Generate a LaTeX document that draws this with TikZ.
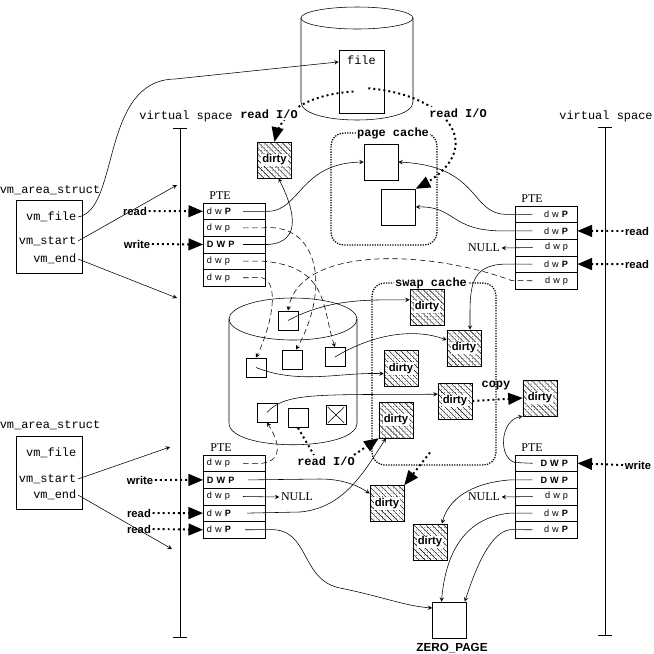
\documentclass[tikz,border=0pt]{standalone}
\usepackage{fontspec}
\setmainfont{Liberation Serif}
\setsansfont{Liberation Sans}
\setmonofont{Liberation Mono}
\usetikzlibrary{arrows, positioning, patterns.meta}

\newcommand\dirtyword{{\setlength\fboxsep{0.6pt}\colorbox{white}{dirty}}}

\tikzstyle{tttext} = [inner sep=1pt, font=\ttfamily\fontsize{8.5}{10}\selectfont]
\tikzstyle{vmtext} = [anchor=east, inner sep=1pt, font=\ttfamily\fontsize{8.5}{10}\selectfont]
\tikzstyle{sertext} = [inner sep=1pt, font=\fontsize{8.5}{10}\selectfont]
\tikzstyle{bftt} = [inner sep=1pt, font=\ttfamily\bfseries\fontsize{8.5}{10}\selectfont]
\tikzstyle{bfsans} = [inner sep=1pt, font=\sffamily\bfseries\fontsize{8}{10}\selectfont]
\tikzstyle{vmbox} = [rectangle, draw=black, minimum width=1.65cm, minimum height=1.83cm]
\tikzstyle{pterowL} = [rectangle, draw=black, minimum width=1.55cm, minimum height=0.415cm, inner sep=0pt, outer sep=0pt, text width=1.35cm, align=left, font=\sffamily\fontsize{6.5}{7}\selectfont]
\tikzstyle{pterowR} = [rectangle, draw=black, minimum width=1.55cm, minimum height=0.415cm, inner sep=0pt, outer sep=0pt, text width=1.075cm, align=right, font=\sffamily\fontsize{6.5}{7}\selectfont]
\tikzstyle{dirtybox} = [rectangle, draw=black, minimum width=0.85cm, minimum height=0.9cm, inner sep=0pt, preaction={fill=white}, preaction={pattern={Dots[distance=2pt, radius=0.25pt]}}, pattern={Lines[angle=-45, distance=3pt, line width=0.3pt]}, font=\sffamily\bfseries\fontsize{8}{9}\selectfont]
\tikzstyle{pagebox} = [rectangle, draw=black, fill=white, minimum width=0.85cm, minimum height=0.9cm]
\tikzstyle{diskbox} = [rectangle, draw=black, fill=white, minimum width=0.5cm, minimum height=0.48cm]
\tikzstyle{cacheframe} = [rectangle, draw=black, rounded corners=9pt, line width=0.9pt, dash pattern=on 0.9pt off 0.9pt]
\tikzstyle{arrow} = [->, >=stealth]
\tikzstyle{darrow} = [->, >=stealth, dash pattern=on 4pt off 2.5pt]
\tikzstyle{iodots} = [line width=1.4pt, dash pattern=on 1.4pt off 2.2pt]
\tikzstyle{rwarrow} = [line width=1.4pt, dash pattern=on 1.4pt off 2.2pt, -triangle 45]

\begin{document}
\begin{tikzpicture}[x=0.025cm, y=-0.025cm]
    \useasboundingbox (0,0) rectangle (654,654);

    % disks
    \draw (357,18) ellipse [x radius=56, y radius=11];
    \draw (301,18) -- (301,102) .. controls (301,126) and (413,126) .. (413,102) -- (413,18);
    \draw (293,319) ellipse [x radius=64, y radius=21];
    \draw (229,319) -- (229,423) .. controls (229,452) and (357,452) .. (357,423) -- (357,319);

    \node (file) [rectangle, draw, fill=white, minimum width=1.125cm, minimum height=1.575cm] at (361.5,81.5) {};
    \node (filetxt) [tttext, anchor=north] at ([yshift=-3pt]file.north) {file};

    % virtual spaces
    \node (vsL) [tttext] at (186,116) {virtual space};
    \draw (173,128) -- (187,128) (180,128) -- (180,637) (173,637) -- (187,637);
    \node (vsR) [tttext] at (606,116) {virtual space};
    \draw (598,127) -- (612,127) (605,127) -- (605,635) (598,635) -- (612,635);
    \coordinate (vsL1) at (177,185);
    \coordinate (vsL2) at (177,298);
    \coordinate (vsL3) at (170,447);
    \coordinate (vsL4) at (172,549);

    % vm_area_struct
    \node (vmA) [vmbox] at (49,236.5) {};
    \node (vmAname) [tttext] at (50,190) {vm\_area\_struct};
    \node (vmAfile) [vmtext] at (78,217) {vm\_file};
    \node (vmAstart) [vmtext] at (78,241) {vm\_start};
    \node (vmAend) [vmtext] at (78,259) {vm\_end};
    \node (vmB) [vmbox] at (49,473) {};
    \node (vmBname) [tttext] at (50,425) {vm\_area\_struct};
    \node (vmBfile) [vmtext] at (78,453) {vm\_file};
    \node (vmBstart) [vmtext] at (78,479) {vm\_start};
    \node (vmBend) [vmtext] at (78,495) {vm\_end};

    % PTEs
    \node (pteA) [sertext] at (220,196) {PTE};
    \node (ptA1) [pterowL] at (234,211.3) {d w \textbf{P}};
    \node (ptA2) [pterowL, below=0pt of ptA1] {d w p};
    \node (ptA3) [pterowL, below=0pt of ptA2] {\textbf{D W P}};
    \node (ptA4) [pterowL, below=0pt of ptA3] {d w p};
    \node (ptA5) [pterowL, below=0pt of ptA4] {d w p};

    \node (pteB) [sertext] at (532,199) {PTE};
    \node (ptB1) [pterowR] at (546.5,214.3) {d w \textbf{P}};
    \node (ptB2) [pterowR, below=0pt of ptB1] {d w \textbf{P}};
    \node (ptB3) [pterowR, below=0pt of ptB2] {d w p};
    \node (ptB4) [pterowR, below=0pt of ptB3] {d w \textbf{P}};
    \node (ptB5) [pterowR, below=0pt of ptB4] {d w p};

    \node (pteC) [sertext] at (221,448) {PTE};
    \node (ptC1) [pterowL] at (234,463.3) {d w p};
    \node (ptC2) [pterowL, below=0pt of ptC1] {\textbf{D W P}};
    \node (ptC3) [pterowL, below=0pt of ptC2] {d w p};
    \node (ptC4) [pterowL, below=0pt of ptC3] {d w \textbf{P}};
    \node (ptC5) [pterowL, below=0pt of ptC4] {d w \textbf{P}};

    \node (pteD) [sertext] at (532,448) {PTE};
    \node (ptD1) [pterowR] at (546.5,463.3) {\textbf{D W P}};
    \node (ptD2) [pterowR, below=0pt of ptD1] {\textbf{D W P}};
    \node (ptD3) [pterowR, below=0pt of ptD2] {d w p};
    \node (ptD4) [pterowR, below=0pt of ptD3] {d w \textbf{P}};
    \node (ptD5) [pterowR, below=0pt of ptD4] {d w \textbf{P}};

    \node (nullB) [sertext] at (484,248) {NULL};
    \node (nullC) [sertext] at (297,497) {NULL};
    \node (nullD) [sertext] at (484,497) {NULL};

    % caches
    \node (pagec) [cacheframe, minimum width=2.65cm, minimum height=2.8cm] at (384,189) {};
    \node (pagectxt) [bftt, fill=white] at (393,133) {page cache};
    \node (pc1) [pagebox] at (381,162) {};
    \node (pc2) [pagebox] at (398.5,207) {};

    \node (swapc) [cacheframe, minimum width=3.1cm, minimum height=4.55cm] at (434,374) {};
    \node (swapctxt) [bftt, fill=white] at (431,283) {swap cache};

    % swap disk slots
    \node (boxA) [diskbox] at (288,320.5) {};
    \node (boxB) [diskbox] at (292,359.5) {};
    \node (boxC) [diskbox] at (335,357) {};
    \node (boxD) [diskbox] at (256,367.5) {};
    \node (boxE) [diskbox] at (267,412.5) {};
    \node (boxF) [diskbox] at (298,418) {};
    \node (boxG) [diskbox] at (336,415) {};
    \draw [shorten <=2pt, shorten >=2pt] (boxG.north west) -- (boxG.south east);
    \draw [shorten <=2pt, shorten >=2pt] (boxG.north east) -- (boxG.south west);

    % dirty pages
    \node (dirtyT) [dirtybox] at (274.5,160) {\dirtyword};
    \node (S1) [dirtybox] at (427,307) {\dirtyword};
    \node (S2) [dirtybox] at (464,348) {\dirtyword};
    \node (S3) [dirtybox] at (401,368.5) {\dirtyword};
    \node (S4) [dirtybox] at (455,401) {\dirtyword};
    \node (S5) [dirtybox] at (396,420) {\dirtyword};
    \node (S6) [dirtybox] at (540,398) {\dirtyword};
    \node (D7) [dirtybox] at (387,503.5) {\dirtyword};
    \node (D8) [dirtybox] at (430,542) {\dirtyword};

    \node (zp) [pagebox] at (449.5,620) {};
    \node (zptxt) [bfsans, font=\sffamily\bfseries\fontsize{8.3}{10}\selectfont] at (452,648) {ZERO\_PAGE};

    % read / write accesses
    \node (rdA) [bfsans] at (135,211) {read};
    \node (wrA) [bfsans] at (137,244) {write};
    \node (wrC) [bfsans] at (140,480) {write};
    \node (rdC1) [bfsans] at (139,513) {read};
    \node (rdC2) [bfsans] at (139,529) {read};
    \node (rdB1) [bfsans] at (637,231) {read};
    \node (rdB2) [bfsans] at (637,264) {read};
    \node (wrD) [bfsans] at (638,465) {write};
    \draw [rwarrow] (rdA.east) -- (ptA1.west);
    \draw [rwarrow] (wrA.east) -- (ptA3.west);
    \draw [rwarrow] (wrC.east) -- (ptC2.west);
    \draw [rwarrow] (rdC1.east) -- (ptC4.west);
    \draw [rwarrow] (rdC2.east) -- (ptC5.west);
    \draw [rwarrow] (rdB1.west) -- (ptB2.east);
    \draw [rwarrow] (rdB2.west) -- (ptB4.east);
    \draw [rwarrow] (wrD.west) -- (ptD1.east);

    % vm_area_struct links
    \draw [arrow] (vmAfile.east) .. controls (120,210) and (100,80) .. (175,79) -- ([yshift=0.49cm]file.west);
    \draw [arrow] (vmAstart.east) -- (vsL1);
    \draw [arrow] (vmAend.east) -- (vsL2);
    \draw [arrow] (vmBstart.east) -- (vsL3);
    \draw [arrow] (vmBend.east) -- (vsL4);

    % page table links
    \draw [arrow] ([xshift=-0.55cm]ptA1.east) -- (268,211.3) .. controls (300,211) and (300,163) .. (pc1.west);
    \draw [arrow] ([xshift=-0.55cm]ptA3.east) -- (268,244.5) .. controls (305,242) and (292,205) .. ([xshift=0.1cm]dirtyT.south);
    \draw [darrow] ([xshift=-0.55cm]ptA2.east) -- (262,227.9) .. controls (320,222) and (330,290) .. ([xshift=0.1cm]boxB.north);
    \draw [darrow] ([xshift=-0.55cm]ptA4.east) -- (262,261.1) .. controls (330,266) and (322,310) .. (boxC.north);
    \draw [darrow] ([xshift=-0.55cm]ptA5.east) -- (262,277.7) .. controls (280,282) and (272,325) .. (boxD.north);

    \draw [arrow] ([xshift=0.425cm]ptB1.west) -- (505,214.3) .. controls (470,213) and (480,166) .. (pc1.east);
    \draw [arrow] ([xshift=0.425cm]ptB2.west) -- (500,230.9) .. controls (450,230) and (455,206) .. (pc2.east);
    \draw [arrow] ([xshift=0.425cm]ptB3.west) -- (nullB.east);
    \draw [arrow] ([xshift=0.425cm]ptB4.west) -- (505,264.1) .. controls (468,265) and (470,290) .. ([xshift=0.15cm]S2.north);
    \draw [darrow] ([xshift=0.425cm]ptB5.west) -- (512,280.7) .. controls (430,250) and (300,245) .. (boxA.north);

    \draw [darrow] ([xshift=-0.55cm]ptC1.east) -- (262,463.3) .. controls (285,460) and (278,440) .. (boxE.south);
    \draw [arrow] ([xshift=-0.425cm]ptC2.east) -- (320,479) .. controls (345,479) and (360,487) .. ([yshift=0.25cm]D7.west);
    \draw [arrow] ([xshift=-0.55cm]ptC3.east) -- (nullC.west);
    \draw [arrow] ([xshift=-0.45cm]ptC4.east) -- (300,512) .. controls (345,508) and (365,470) .. ([xshift=-0.25cm]S5.south);
    \draw [arrow] ([xshift=-0.5cm]ptC5.east) -- (270,529.7) .. controls (310,528) and (300,580) .. (340,588) .. controls (380,596) and (405,606) .. ([yshift=0.3cm]zp.west);

    \draw [arrow] ([xshift=0.425cm]ptD1.west) -- (515,462.5) .. controls (498,458) and (500,420) .. (S6.south west);
    \draw [arrow] ([xshift=0.425cm]ptD2.west) -- (510,479.9) .. controls (470,483) and (448,500) .. ([xshift=0.3cm]D8.north);
    \draw [arrow] ([xshift=0.425cm]ptD3.west) -- (nullD.east);
    \draw [arrow] ([xshift=0.425cm]ptD4.west) -- (510,513.1) .. controls (460,518) and (445,560) .. ([xshift=-0.2cm]zp.north);
    \draw [arrow] ([xshift=0.425cm]ptD5.west) -- (510,529.7) .. controls (490,532) and (475,570) .. ([xshift=-0.05cm]zp.north east);

    % swap in
    \draw [arrow] (boxA.center) .. controls (330,298) and (370,300) .. ([yshift=0.18cm]S1.west);
    \draw [arrow] (boxC.center) .. controls (380,330) and (420,330) .. ([yshift=0.2cm]S2.west);
    \draw [arrow] (boxD.center) .. controls (300,385) and (340,372) .. ([yshift=-0.13cm]S3.west);
    \draw [arrow] (boxE.center) .. controls (285,392) and (320,395) .. ([yshift=0.17cm]S4.west);

    % I/O
    \draw [rwarrow] ([shift={(-0.2cm,-0.25cm)}]file.center) .. controls (315,94) and (282,108) .. (dirtyT.north);
    \draw [rwarrow] ([shift={(0.17cm,-0.17cm)}]file.center) .. controls (450,95) and (490,150) .. (pc2.north east);
    \node (readIOa) [bftt, fill=white] at (269,114) {read I/O};
    \node (readIOb) [bftt, fill=white] at (458,113) {read I/O};

    \node (readIOc) [bftt] at (326,461) {read I/O};
    \draw [iodots] (boxF.south) -- ([xshift=-0.3cm]readIOc.north);
    \draw [rwarrow] ([xshift=0.7cm]readIOc.north) -- (S5.south west);
    \draw [rwarrow] ([shift={(-0.1cm,0.33cm)}]swapc.south) -- (D7.north east);

    \node (copytxt) [bftt] at (496,386) {copy};
    \draw [rwarrow] (S4.east) -- (S6.west);
\end{tikzpicture}
\end{document}
